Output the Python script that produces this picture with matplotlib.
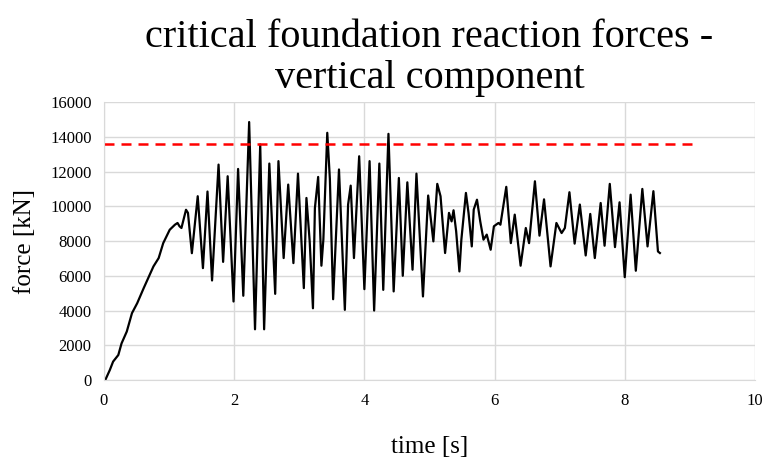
import matplotlib.pyplot as plt

# vertical foundation reaction force
time_s = [0.00, 0.02, 0.09, 0.14, 0.22, 0.27, 0.35, 0.43, 0.51, 0.61, 0.68, 0.76, 0.84,
          0.91, 1.01, 1.09, 1.13, 1.16, 1.19, 1.26, 1.29, 1.35, 1.44, 1.52, 1.59, 1.66,
          1.76, 1.83, 1.90, 1.99, 2.06, 2.14, 2.23, 2.32, 2.40, 2.46, 2.54, 2.63, 2.68,
          2.76, 2.83, 2.91, 2.98, 3.07, 3.11, 3.16, 3.21, 3.24, 3.29, 3.34, 3.37, 3.43,
          3.47, 3.52, 3.61, 3.70, 3.75, 3.79, 3.84, 3.92, 4.00, 4.08, 4.15, 4.23, 4.29,
          4.37, 4.45, 4.53, 4.59, 4.66, 4.74, 4.80, 4.90, 4.98, 5.06, 5.12, 5.17, 5.24,
          5.30, 5.34, 5.37, 5.41, 5.46, 5.49, 5.56, 5.60, 5.65, 5.68, 5.73, 5.78, 5.83,
          5.88, 5.94, 5.99, 6.06, 6.09, 6.18, 6.25, 6.31, 6.40, 6.48, 6.53, 6.62, 6.69,
          6.76, 6.86, 6.95, 7.03, 7.08, 7.15, 7.23, 7.31, 7.40, 7.47, 7.54, 7.63, 7.69,
          7.77, 7.85, 7.92, 8.00, 8.09, 8.17, 8.27, 8.35, 8.44, 8.51, 8.54]
force_kn = [0, 0, 580, 1060, 1440, 2110, 2790, 3850, 4420, 5290, 5870, 6540, 7020,
            7880, 8650, 8940, 9040, 8850, 8750, 9800, 9620, 7300, 10580, 6440, 10850, 5730,
            12400, 6800, 11730, 4520, 12150, 4850, 14850, 2920, 13560, 2920, 12460, 4960, 12600,
            7020, 11250, 6730, 11880, 5290, 10480, 7980, 4130, 9900, 11690, 6580, 8080, 14230,
            11580, 4650, 12120, 4040, 10100, 11190, 7020, 12880, 5230, 12600, 4000, 12460, 5190,
            14170, 5100, 11630, 6000, 11380, 6350, 11880, 4810, 10620, 7980, 11290, 10580, 7310,
            9620, 9130, 9770, 8560, 6250, 8080, 10770, 9620, 7690, 9810, 10380, 9130, 8080,
            8370, 7500, 8850, 9040, 8940, 11120, 7880, 9520, 6580, 8750, 7880, 11440, 8310,
            10400, 6540, 9040, 8460, 8750, 10810, 7850, 10100, 7170, 9560, 7020, 10190, 7730,
            11290, 7650, 10230, 5920, 10670, 6290, 11000, 7690, 10870, 7400, 7310]

# critical level (red dashed)
limit_t = [0, 9.1]
limit_kn = [13600, 13600]

plt.rcParams['font.family'] = ['Liberation Serif', 'DejaVu Serif']

fig = plt.figure(figsize=(7.68, 4.66), dpi=100)
ax = fig.add_axes([0.1354, 0.1845, 0.8476, 0.5965])

ax.plot(time_s, force_kn, color='black', lw=1.6, solid_joinstyle='round')
ax.plot(limit_t, limit_kn, color='#ff0000', lw=1.8, linestyle=(0, (4, 2.8)))

ax.set_xlim(0, 10)
ax.set_ylim(0, 16000)
ax.set_xticks(range(0, 11, 2))
ax.set_yticks(range(0, 16001, 2000))
ax.grid(True, color='#d9d9d9', lw=1)
ax.set_axisbelow(True)
for s in ['top', 'right']:
    ax.spines[s].set_visible(False)
for s in ['left', 'bottom']:
    ax.spines[s].set_color('#d9d9d9')
ax.tick_params(length=0, labelsize=12, pad=9)

ax.set_xlabel('time [s]', fontsize=18, labelpad=20)
ax.set_ylabel('force [kN]', fontsize=18, labelpad=10)
ax.set_title('critical foundation reaction forces -\nvertical component', fontsize=29, pad=10,
             linespacing=1.15)

fig.savefig('out.png', dpi=100)
